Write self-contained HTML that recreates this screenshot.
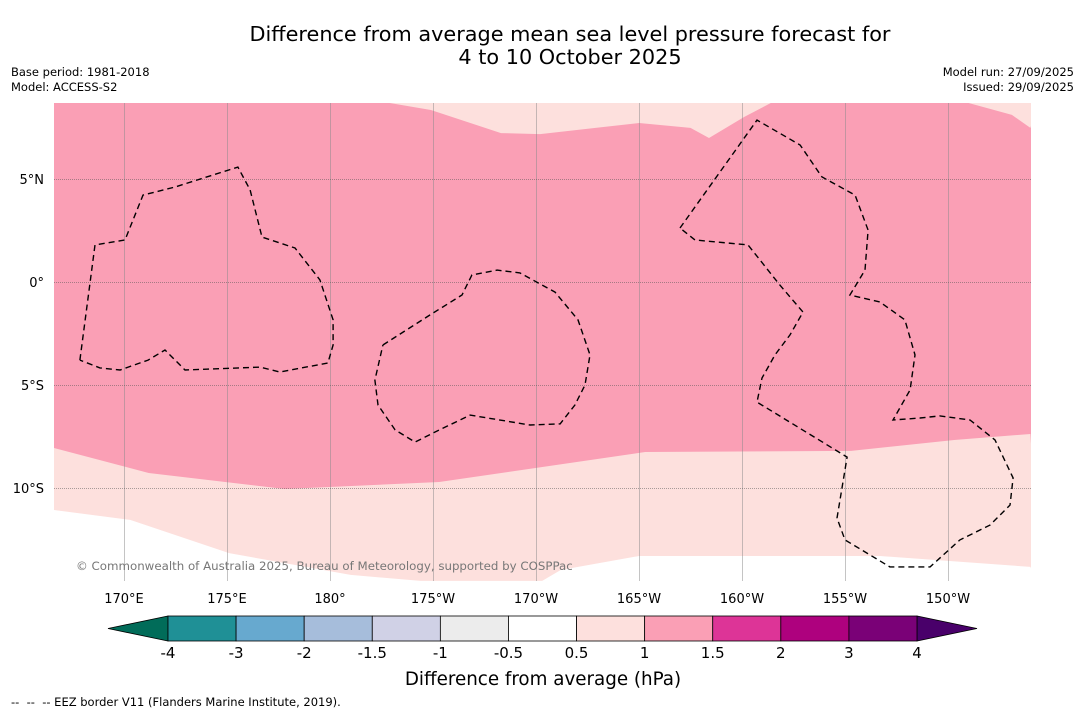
<!DOCTYPE html>
<html><head><meta charset="utf-8"><style>
html,body{margin:0;padding:0;background:#fff;}
svg{display:block;font-family:"DejaVu Sans","Liberation Sans",sans-serif;}
</style></head><body>
<svg id="c" width="1085" height="713" viewBox="0 0 1085 713">
<defs><clipPath id="mc"><rect x="54" y="103" width="977" height="478"/></clipPath></defs>
<text x="570" y="41" font-size="20.8" text-anchor="middle">Difference from average mean sea level pressure forecast for</text>
<text x="570" y="64" font-size="20.8" text-anchor="middle">4 to 10 October 2025</text>
<text x="11" y="76" font-size="11.5">Base period: 1981-2018</text>
<text x="11" y="91" font-size="11.5">Model: ACCESS-S2</text>
<text x="1074" y="76" font-size="11.5" text-anchor="end">Model run: 27/09/2025</text>
<text x="1074" y="91" font-size="11.5" text-anchor="end">Issued: 29/09/2025</text>
<g id="map" clip-path="url(#mc)"></g>
<g id="ticks"></g>
<g id="cbar"></g>
<text x="543" y="685" font-size="18.3" text-anchor="middle">Difference from average (hPa)</text>
<text x="11" y="706" font-size="11.5" xml:space="preserve">--  --  -- EEZ border V11 (Flanders Marine Institute, 2019).</text>
</svg>
<script>
// axes
const lonTicks=[170,175,180,185,190,195,200,205,210];
const lonLabels=["170°E","175°E","180°","175°W","170°W","165°W","160°W","155°W","150°W"];
const latTicks=[5,0,-5,-10];
const latLabels=["5°N","0°","5°S","10°S"];
// colour scale
const levels=["-4","-3","-2","-1.5","-1","-0.5","0.5","1","1.5","2","3","4"];
const levelColors=["#1f9096","#67a9cf","#a6bddb","#d0d1e6","#ececec","#ffffff","#fde0dd","#fa9fb5","#dd3497","#ae017e","#7a0177"];
const underColor="#016c59", overColor="#49006a";
// contour boundaries (lon east 0-360, lat)
const pinkLowerLon=[166.6,171.2,177.8,185.3,195.3,205.3,210.3,214.0];
const pinkLowerLat=[-8.06,-9.27,-10.05,-9.71,-8.25,-8.20,-7.67,-7.38];
const whiteLon=[166.6,170.3,175.1,181.0,184.4,190.3,191.2,195.0,206.7,214.0];
const whiteLat=[-11.07,-11.55,-13.16,-14.22,-14.51,-14.51,-13.98,-13.30,-13.30,-13.83];
const topLightLon=[182.9,184.9,188.3,190.2,195.0,197.5,198.4,200.1,201.4];
const topLightLat=[8.69,8.35,7.23,7.18,7.72,7.48,6.99,8.01,8.69];
const topRightLon=[211.0,213.1,214.0];
const topRightLat=[8.69,8.11,7.48];
// EEZ borders
const eez1Lon=[167.86,168.59,170.05,170.92,172.48,175.53,176.12,176.70,178.30,179.51,180.15,180.15,179.90,177.57,176.60,172.96,171.99,171.17,169.81,168.83,167.86];
const eez1Lat=[-3.79,1.80,2.04,4.22,4.61,5.58,4.47,2.18,1.65,0.10,-1.84,-3.06,-3.93,-4.37,-4.13,-4.27,-3.30,-3.79,-4.27,-4.17,-3.79];
const eez2Lon=[182.57,184.85,186.41,186.89,188.11,189.22,190.92,192.04,192.62,192.38,191.89,191.17,189.71,186.80,185.10,184.13,183.16,182.33,182.18,182.57];
const eez2Lat=[-3.06,-1.60,-0.63,0.34,0.58,0.44,-0.49,-1.84,-3.54,-5.00,-5.97,-6.89,-6.94,-6.46,-7.28,-7.77,-7.18,-5.97,-4.76,-3.06];
const eez3Lon=[196.99,200.73,202.82,203.88,205.49,206.12,205.97,205.24,206.70,207.91,208.40,208.16,207.33,208.64,209.61,211.07,212.28,213.16,213.01,212.04,210.58,209.13,207.18,205.00,204.61,205.10,200.73,200.97,201.60,202.33,202.96,201.84,200.29,197.72,196.99];
const eez3Lat=[2.62,7.86,6.65,5.10,4.22,2.52,0.58,-0.63,-0.97,-1.84,-3.54,-5.24,-6.70,-6.60,-6.50,-6.70,-7.67,-9.51,-10.83,-11.80,-12.52,-13.83,-13.83,-12.52,-11.46,-8.50,-5.83,-4.66,-3.54,-2.57,-1.46,-0.15,1.80,2.04,2.62];

const NS="http://www.w3.org/2000/svg";
const X=lon=>124+(lon-170)*20.6;
const Y=lat=>282-lat*20.6;
function mk(tag,attrs,parent){const e=document.createElementNS(NS,tag);for(const k in attrs)e.setAttribute(k,attrs[k]);parent.appendChild(e);return e;}
function pts(lons,lats){return lons.map((l,i)=>X(l).toFixed(1)+","+Y(lats[i]).toFixed(1));}
const map=document.getElementById('map');
let r=mk('rect',{x:54,y:103,width:977,height:478,fill:'#fa9fb5'},map);


let p=mk('polygon',{points:[...pts(pinkLowerLon,pinkLowerLat),"1040,590","40,590"].join(" "),fill:'#fde0dd'},map);


p=mk('polygon',{points:[...pts(whiteLon,whiteLat),"1040,590","40,590"].join(" "),fill:'#ffffff'},map);


p=mk('polygon',{points:[...pts(topLightLon,topLightLat),X(201.4)+",95",X(182.9)+",95"].join(" "),fill:'#fde0dd'},map);


p=mk('polygon',{points:[...pts(topRightLon,topRightLat),"1040,95"].join(" "),fill:'#fde0dd'},map);


// gridlines
lonTicks.forEach((lo,i)=>{
 const l=mk('line',{x1:Math.round(X(lo))+0.5,x2:Math.round(X(lo))+0.5,y1:103,y2:581,stroke:'#8a8a8a','stroke-width':0.5},map);
 
 
 const t=mk('text',{x:X(lo),y:603,'font-size':13,'text-anchor':'middle'},document.getElementById('ticks'));
 t.textContent=lonLabels[i];
 
 
});
latTicks.forEach((la,i)=>{
 const l=mk('line',{x1:54,x2:1031,y1:Math.round(Y(la))+0.5,y2:Math.round(Y(la))+0.5,stroke:'#555','stroke-width':0.5,'stroke-dasharray':'1,1'},map);
 
 
 const t=mk('text',{x:44,y:Y(la)+5,'font-size':13,'text-anchor':'end'},document.getElementById('ticks'));
 t.textContent=latLabels[i];
 
 
});
[[eez1Lon,eez1Lat],[eez2Lon,eez2Lat],[eez3Lon,eez3Lat]].forEach(([a,b])=>{
 const e=mk('polyline',{points:pts(a,b).join(" "),fill:'none',stroke:'#000','stroke-width':1.4,'stroke-dasharray':'6,4'},map);
 
 
});
const cr=mk('text',{x:76,y:570,'font-size':11.8,fill:'#777'},map);
cr.textContent="© Commonwealth of Australia 2025, Bureau of Meteorology, supported by COSPPac";


// colorbar
const cb=document.getElementById('cbar');
const x0=168,x1=917,segW=(x1-x0)/levelColors.length,cy0=616,cy1=641;
let tri=mk('polygon',{points:`108,${(cy0+cy1)/2} ${x0},${cy0} ${x0},${cy1}`,fill:underColor,stroke:'#000','stroke-width':0.8},cb);


tri=mk('polygon',{points:`977,${(cy0+cy1)/2} ${x1},${cy0} ${x1},${cy1}`,fill:overColor,stroke:'#000','stroke-width':0.8},cb);


levelColors.forEach((c,i)=>{
 const s=mk('rect',{x:x0+i*segW,y:cy0,width:segW,height:cy1-cy0,fill:c,stroke:'#000','stroke-width':0.8},cb);
 
 
});
levels.forEach((v,i)=>{
 const t=mk('text',{x:x0+i*segW,y:658,'font-size':15,'text-anchor':'middle'},cb);
 t.textContent=v;
 
 
});
</script>
</body></html>
